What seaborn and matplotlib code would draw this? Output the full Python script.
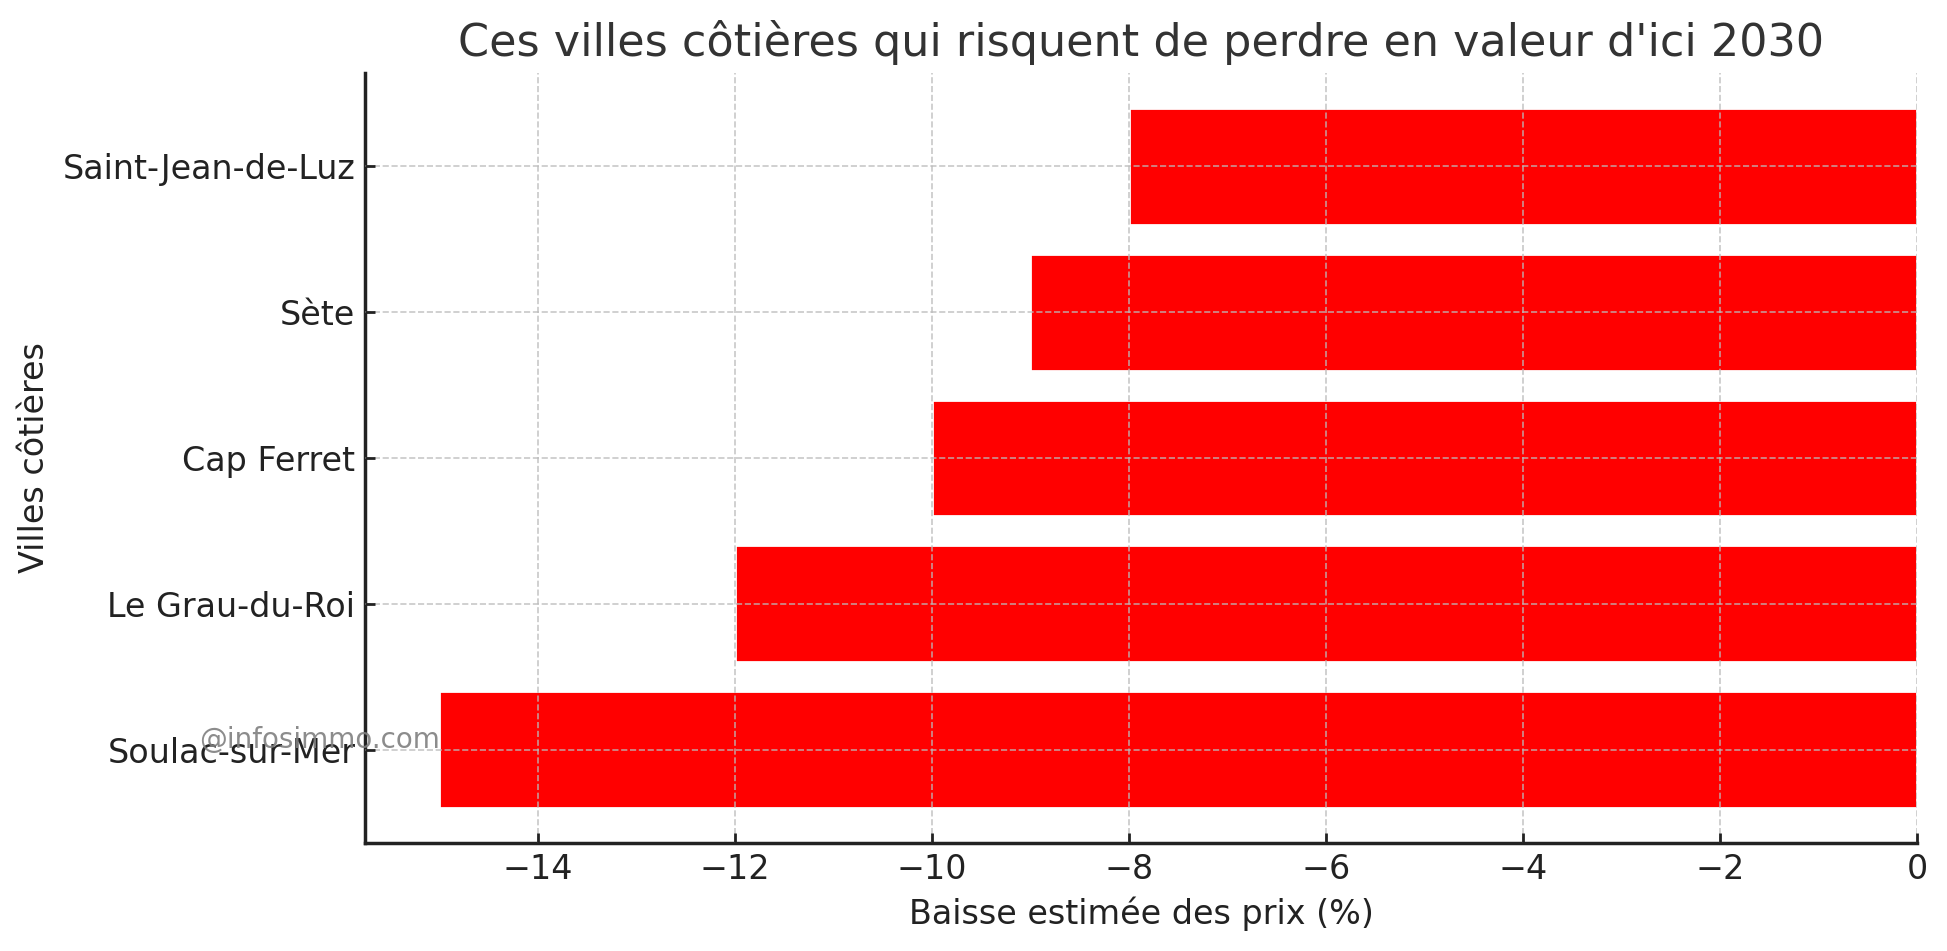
import matplotlib
matplotlib.use("Agg")
import matplotlib.pyplot as plt
import seaborn as sns
import pandas as pd

villes = ["Saint-Jean-de-Luz", "Sète", "Cap Ferret", "Le Grau-du-Roi", "Soulac-sur-Mer"]
baisse = [-8, -9, -10, -12, -15]

df = pd.DataFrame({"ville": villes, "baisse": baisse})

sns.set_theme(style="ticks")
plt.rcParams["font.family"] = ["DejaVu Sans"]

fig = plt.figure(figsize=(9.735, 4.755), dpi=200)
ax = fig.add_axes([0.1875, 0.1136, 0.9846 - 0.1875, 0.9232 - 0.1136])

sns.barplot(data=df, x="baisse", y="ville", color="red", saturation=1, width=0.8, ax=ax, orient="h")
ax.set_xlim(-15.75, 0)
ax.set_ylim(4.64, -0.64)

ax.grid(True, linestyle="--", color="#bbbbbb", alpha=0.8, linewidth=0.6)
ax.set_axisbelow(False)
for b in ax.patches:
    b.set_zorder(1)

sns.despine(ax=ax)
ax.spines["left"].set_color("#222222")
ax.spines["bottom"].set_color("#222222")
ax.tick_params(axis="both", labelsize=12, colors="#222222", length=3.5, width=1,
               direction="in", pad=3.5)

ax.set_title("Ces villes côtières qui risquent de perdre en valeur d'ici 2030", fontsize=16, color="#333333")
ax.set_xlabel("Baisse estimée des prix (%)", fontsize=12, color="#222222")
ax.set_ylabel("Villes côtières", fontsize=12, color="#222222")

fig.text(0.164, 0.222, "@infosimmo.com", fontsize=10, color="gray", alpha=0.9, ha="center", va="center")

fig.savefig("out.png", dpi=200)
